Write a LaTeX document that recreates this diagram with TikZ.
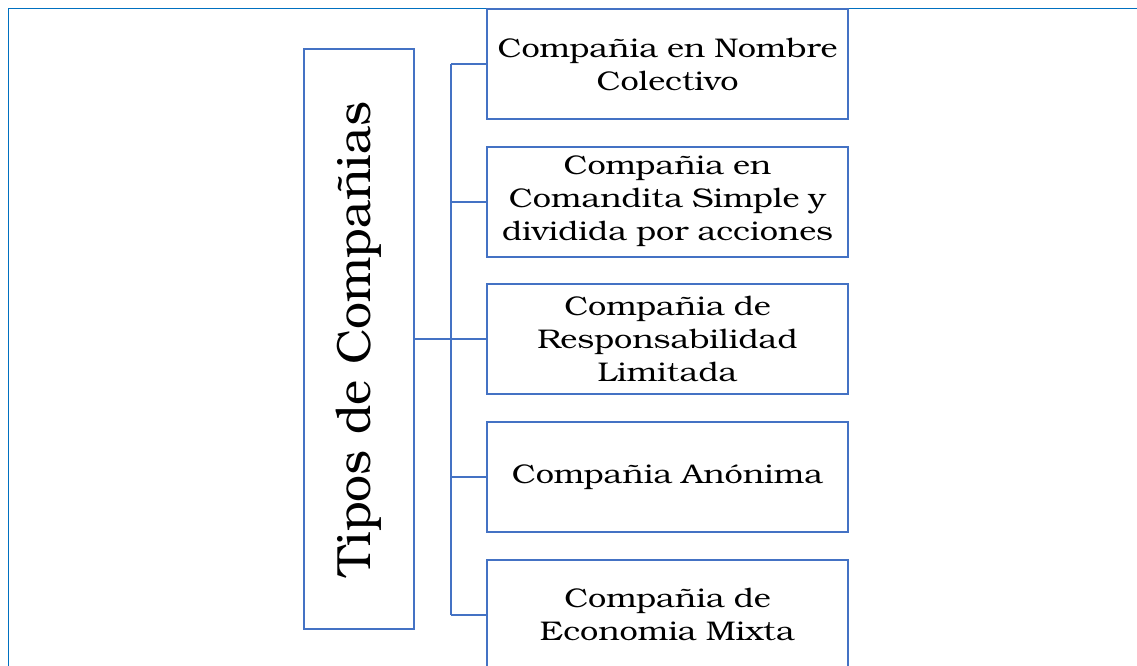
\documentclass[tikz,border=0pt]{standalone}
\usepackage{fontspec}
\setmainfont{TeX Gyre Bonum}
\newfontfamily\cajafont[FakeStretch=1.2]{TeX Gyre Bonum}
\usetikzlibrary{positioning}
\definecolor{boxblue}{HTML}{4472C4}
\definecolor{frameblue}{HTML}{0070C0}
\tikzset{
  tipobox/.style={draw=boxblue, line width=2pt, minimum width=361pt, minimum height=110pt, text width=350pt, align=center, inner sep=0pt, font=\cajafont\fontsize{27}{33}\selectfont},
  enlace/.style={draw=boxblue, line width=2pt}
}

\begin{document}
\begin{tikzpicture}[x=1pt,y=-1pt]
	\useasboundingbox (0,0) rectangle (1137,666);
	\draw [frameblue, line width=1.5pt] (8.5,680) -- (8.5,8.5) -- (1150,8.5);
	\node [draw=boxblue, line width=2pt, rotate=90, minimum width=580pt, minimum height=110pt, inner sep=0pt, font=\fontsize{48}{56}\selectfont] (tipos) at (359,339) {Tipos de Compañias};
	\node [tipobox] (c1) at (667.5,64) {Compañia en Nombre\\Colectivo};
	\node [tipobox, below=25.7pt of c1] (c2) {Compañia en\\Comandita Simple y\\dividida por acciones};
	\node [tipobox, below=25.7pt of c2] (c3) {Compañia de\\Responsabilidad\\Limitada};
	\node [tipobox, below=25.7pt of c3] (c4) {Compañia Anónima};
	\node [tipobox, below=25.7pt of c4] (c5) {Compañia de\\Economia Mixta};
	\coordinate (tronco) at (451,339);
	\draw [enlace] (tipos.south) -- (tronco);
	\draw [enlace] (tronco |- c1.west) -- (tronco |- c5.west);
	\foreach \c in {c1,c2,c3,c4,c5}
		\draw [enlace] (tronco |- \c.west) -- (\c.west);
\end{tikzpicture}
\end{document}
